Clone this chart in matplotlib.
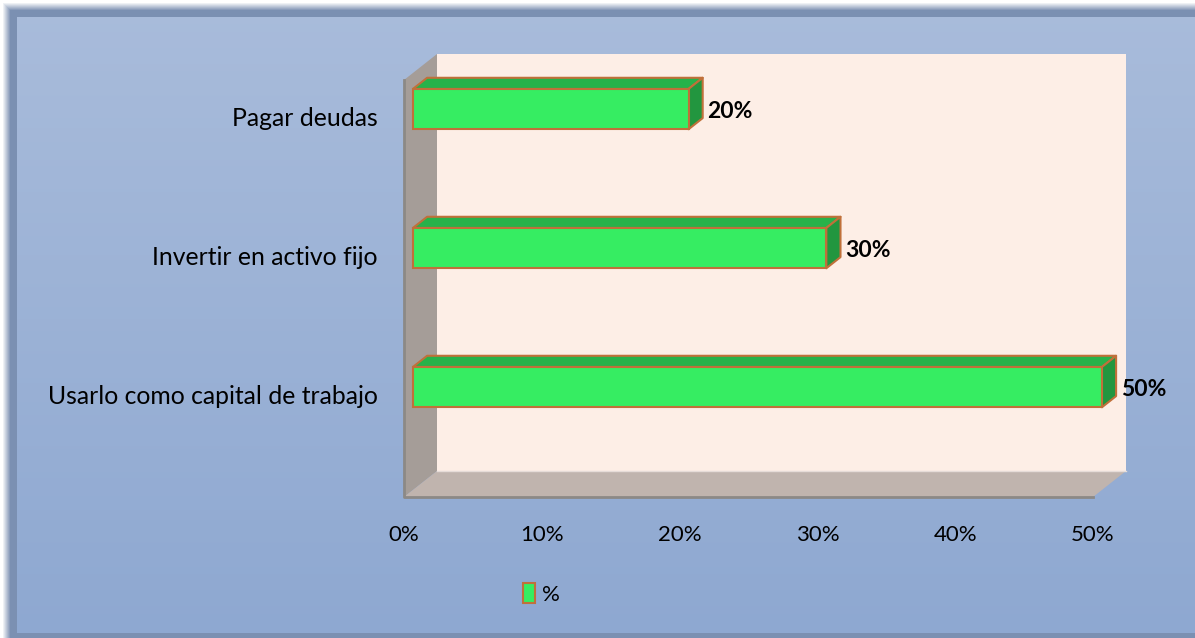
import numpy as np
import matplotlib.pyplot as plt
from matplotlib.patches import Polygon, Patch
from matplotlib.transforms import Affine2D, IdentityTransform

categories = ["Usarlo como capital de trabajo", "Invertir en activo fijo", "Pagar deudas"]
percent = [50, 30, 20]
ticks = [0, 10, 20, 30, 40, 50]
tick_labels = [f"{t}%" for t in ticks]
series_name = "%"

W, H = 1195, 638
plt.rcParams['font.family'] = ['Lato', 'DejaVu Sans']

fig = plt.figure(figsize=(W / 100, H / 100), dpi=100)

# background: blue vertical gradient with a dark frame and a soft white glow outside
bg = fig.add_axes([0, 0, 1, 1])
yy, xx = np.mgrid[0:H, 0:W]
top_c = np.array([169, 188, 219]) / 255
bot_c = np.array([142, 168, 209]) / 255
t = (yy / (H - 1))[..., None]
img = top_c * (1 - t) + bot_c * t
band = np.array([123, 144, 178]) / 255
img[(xx < 17) | (yy < 17) | (yy >= 633)] = band
d = np.minimum(xx, yy)
fade = np.clip((d - 2) / 8, 0, 1)[..., None]
img = img * fade + (1 - fade)
bg.imshow(img, aspect='auto', extent=(0, W, H, 0), interpolation='nearest')
bg.axis('off')

# front plane of the 3D box (image pixels)
left, right, top, bottom = 404, 1093, 80, 497
ax = fig.add_axes([left / W, 1 - bottom / H, (right - left) / W, (bottom - top) / H])
ax.set_xlim(0, 50)
ax.set_ylim(-0.74, 2.26)
ax.patch.set_visible(False)
for s in ax.spines.values():
    s.set_visible(False)
ax.set_xticks(ticks)
ax.set_xticklabels(tick_labels, fontsize=16)
ax.set_yticks(range(len(categories)))
ax.set_yticklabels(categories, fontsize=17.8)
ax.tick_params(axis='x', length=0, pad=20)
ax.tick_params(axis='y', length=0, pad=19)

DX, DY = 33, 26          # full depth of the box in pixels
F, B = 0.27, 0.70        # bar front / back depth fractions
BAR_H = 0.29


def to_px(x, y, depth=0.0):
    px, py = ax.transData.transform((x, y))
    return px + depth * DX, py + depth * DY


def face(pts, color, z, ec='none', lw=0):
    ax.add_patch(Polygon(pts, closed=True, facecolor=color, edgecolor=ec,
                         linewidth=lw, transform=IdentityTransform(),
                         clip_on=False, zorder=z, joinstyle='round'))


y0, y1 = ax.get_ylim()
x0, x1 = ax.get_xlim()

# walls and floor
face([to_px(x0, y0, 1), to_px(x1, y0, 1), to_px(x1, y1, 1), to_px(x0, y1, 1)], '#fdeee6', 1)
face([to_px(x0, y0, 0), to_px(x0, y0, 1), to_px(x0, y1, 1), to_px(x0, y1, 0)], '#a59d98', 1)
face([to_px(x0, y0, 0), to_px(x1, y0, 0), to_px(x1, y0, 1), to_px(x0, y0, 1)], '#c0b4ae', 1)
edge_pts = np.array([to_px(x0, y1, 0), to_px(x0, y0, 0), to_px(x1, y0, 0)])
ax.plot(edge_pts[:, 0], edge_pts[:, 1], color='#8c8986', lw=2,
        transform=IdentityTransform(), clip_on=False, zorder=2)
seam = np.array([to_px(x0, y0, 1), to_px(x1, y0, 1)])
ax.plot(seam[:, 0], seam[:, 1], color='#e6dcd8', lw=1,
        transform=IdentityTransform(), clip_on=False, zorder=2)

# bars: front face through barh, shifted to the bar's depth
edge_c = '#c0703a'
ypos = np.arange(len(categories))
bars = ax.barh(ypos, percent, height=BAR_H, color='#36ed62', edgecolor=edge_c,
               linewidth=1.5, zorder=5)
shift = ax.transData + Affine2D().translate(F * DX, F * DY)
for b in bars:
    b.set_transform(shift)
    b.set_clip_on(False)

for y, v in zip(ypos, percent):
    yt, yb = y + BAR_H / 2, y - BAR_H / 2
    face([to_px(0, yt, F), to_px(v, yt, F), to_px(v, yt, B), to_px(0, yt, B)],
         '#27b24a', 4, edge_c, 1.5)
    face([to_px(v, yb, F), to_px(v, yb, B), to_px(v, yt, B), to_px(v, yt, F)],
         '#22963f', 4, edge_c, 1.5)
    ax.annotate(f"{v}%", xy=(v, y), xytext=(20, 3.5), textcoords='offset points',
                ha='left', va='center', fontsize=16.5, fontweight='bold',
                annotation_clip=False, zorder=6)

fig.legend(handles=[Patch(facecolor='#36ed62', edgecolor=edge_c, linewidth=1.5,
                          label=series_name)],
           loc='center', bbox_to_anchor=(541 / W, 1 - 594 / H), frameon=False,
           fontsize=16, handlelength=0.55, handleheight=1.0, handletextpad=0.3)

fig.savefig('out.png', dpi=100)
